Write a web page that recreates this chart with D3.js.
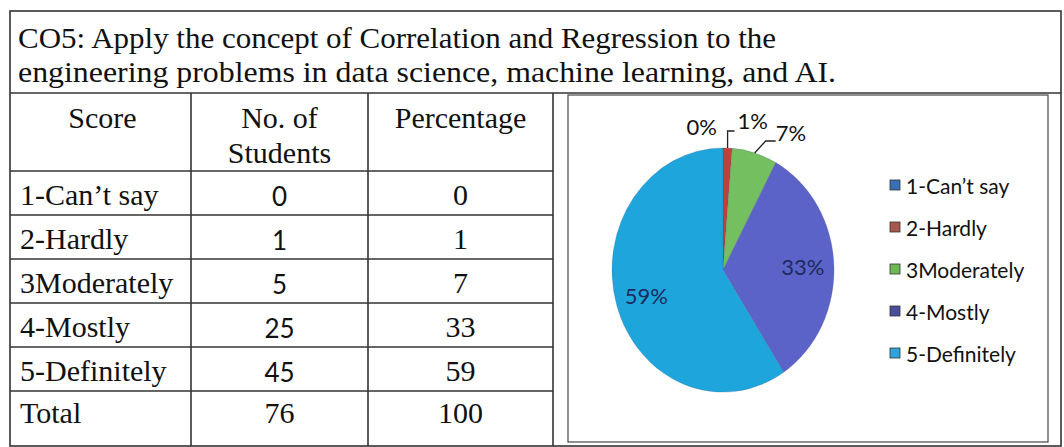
<!DOCTYPE html>
<html>
<head>
<meta charset="utf-8">
<script src="https://cdn.jsdelivr.net/npm/d3@7/dist/d3.min.js"></script>
<style>
  body { margin: 0; background: #fff; }
  .serif { font-family: "Liberation Serif", "Times New Roman", serif; fill: #111; }
  .sans { font-family: Lato, "Open Sans", sans-serif; fill: #111; }
  .rule { stroke: #333; stroke-width: 1.6; fill: none; }
  .box { stroke: #555; stroke-width: 1.3; fill: none; }
</style>
</head>
<body>
<svg id="chart" width="1064" height="447"></svg>
<script>
const TITLE_LINES = [
    "CO5: Apply the concept of Correlation and Regression to the",
    "engineering problems in data science, machine learning, and AI."
];
const HEADERS = [["Score"], ["No. of", "Students"], ["Percentage"]];
const SCORES = ["1-Can\u2019t say", "2-Hardly", "3Moderately", "4-Mostly", "5-Definitely"];
const STUDENTS = [0, 1, 5, 25, 45];
const PERCENTAGES = [0, 1, 7, 33, 59];
const TOTAL_ROW = ["Total", "76", "100"];
const PIE_LABELS = ["0%", "1%", "7%", "33%", "59%"];
const COLORS = ["#3f78c0", "#c0403a", "#74c060", "#5b63c8", "#1ea6dc"];
const LEGEND_COLORS = ["#3b6fb4", "#a8574c", "#6fb856", "#4a4f9a", "#2ea3dc"];

const W = 1064, H = 447;
const svg = d3.select("#chart");

// outer frame
const OUTER = {x0: 10, y0: 11, x1: 1061, y1: 446};
const TITLE_BOTTOM = 93;
const COL_X = [10, 191, 368, 553];
const HEADER_BOTTOM = 171;
const SERIF_SIZE = 30;

svg.append("rect").attr("class", "rule")
    .attr("x", OUTER.x0).attr("y", OUTER.y0)
    .attr("width", OUTER.x1 - OUTER.x0).attr("height", OUTER.y1 - OUTER.y0);
svg.append("line").attr("class", "rule")
    .attr("x1", OUTER.x0).attr("x2", OUTER.x1)
    .attr("y1", TITLE_BOTTOM).attr("y2", TITLE_BOTTOM);

// title
svg.selectAll("text.title")
    .data(TITLE_LINES)
    .enter()
    .append("text")
    .attr("class", "serif title")
    .attr("x", 18)
    .attr("y", function(d, i) { return 48 + i * 34; })
    .attr("font-size", SERIF_SIZE)
    .attr("textLength", function(d, i) { return i === 0 ? 758 : 818; })
    .attr("lengthAdjust", "spacingAndGlyphs")
    .text(function(d) { return d; });

// table rows
const rowKeys = SCORES.concat(["Total"]);
const yRow = d3.scaleBand()
    .domain(rowKeys)
    .range([HEADER_BOTTOM, HEADER_BOTTOM + 44 * rowKeys.length]);

// horizontal rules
svg.append("line").attr("class", "rule")
    .attr("x1", COL_X[0]).attr("x2", COL_X[3])
    .attr("y1", HEADER_BOTTOM).attr("y2", HEADER_BOTTOM);
svg.selectAll("line.rowrule")
    .data(SCORES)
    .enter()
    .append("line")
    .attr("class", "rule rowrule")
    .attr("x1", COL_X[0]).attr("x2", COL_X[3])
    .attr("y1", function(d) { return yRow(d) + yRow.bandwidth(); })
    .attr("y2", function(d) { return yRow(d) + yRow.bandwidth(); });
// vertical rules
svg.selectAll("line.colrule")
    .data(COL_X.slice(1))
    .enter()
    .append("line")
    .attr("class", "rule colrule")
    .attr("x1", function(d) { return d; }).attr("x2", function(d) { return d; })
    .attr("y1", TITLE_BOTTOM).attr("y2", OUTER.y1);

// headers
const colCenter = function(i) { return (COL_X[i] + COL_X[i + 1]) / 2; };
HEADERS.forEach(function(lines, i) {
    svg.selectAll(null)
        .data(lines)
        .enter()
        .append("text")
        .attr("class", "serif")
        .attr("font-size", SERIF_SIZE)
        .attr("text-anchor", "middle")
        .attr("x", colCenter(i) + (i === 0 ? 2 : 0))
        .attr("y", function(d, j) { return 128 + j * 35; })
        .text(function(d) { return d; });
});

// body cells
svg.selectAll("text.score")
    .data(SCORES)
    .enter()
    .append("text")
    .attr("class", "serif score")
    .attr("font-size", SERIF_SIZE)
    .attr("x", 20)
    .attr("y", function(d) { return yRow(d) + 34; })
    .text(function(d) { return d; });

svg.selectAll("text.students")
    .data(STUDENTS)
    .enter()
    .append("text")
    .attr("class", "sans students")
    .attr("font-size", 26)
    .attr("text-anchor", "middle")
    .attr("x", colCenter(1))
    .attr("y", function(d, i) { return yRow(SCORES[i]) + 35; })
    .text(function(d) { return d; });

svg.selectAll("text.pct")
    .data(PERCENTAGES)
    .enter()
    .append("text")
    .attr("class", "serif pct")
    .attr("font-size", SERIF_SIZE)
    .attr("text-anchor", "middle")
    .attr("x", colCenter(2))
    .attr("y", function(d, i) { return yRow(SCORES[i]) + 34; })
    .text(function(d) { return d; });

svg.selectAll("text.total")
    .data(TOTAL_ROW)
    .enter()
    .append("text")
    .attr("class", "serif total")
    .attr("font-size", SERIF_SIZE)
    .attr("text-anchor", function(d, i) { return i === 0 ? "start" : "middle"; })
    .attr("x", function(d, i) { return i === 0 ? 20 : colCenter(i); })
    .attr("y", yRow("Total") + 32)
    .text(function(d) { return d; });

// chart box
const BOX = {x0: 568, y0: 95, x1: 1048, y1: 442};
svg.append("rect").attr("class", "box")
    .attr("x", BOX.x0).attr("y", BOX.y0)
    .attr("width", BOX.x1 - BOX.x0).attr("height", BOX.y1 - BOX.y0);

// pie
const CX = 723, CY = 270, R = 111, SY = 1.1;
const pie = d3.pie().sort(null).value(function(d) { return d; });
const arcs = pie(STUDENTS);
const arc = d3.arc().innerRadius(0).outerRadius(R);
const pieG = svg.append("g")
    .attr("transform", "translate(" + CX + "," + CY + ") scale(1," + SY + ")");
pieG.selectAll("path")
    .data(arcs)
    .enter()
    .append("path")
    .attr("d", arc)
    .attr("fill", function(d, i) { return COLORS[i]; })
    .attr("stroke", "#3a4a7a")
    .attr("stroke-opacity", 0.35)
    .attr("stroke-width", 0.6);

function pt(angle, r) {
    return [CX + r * Math.sin(angle), CY - r * Math.cos(angle) * SY];
}

const LABEL_SIZE = 22;
// inside labels
const labelArc = d3.arc().innerRadius(R * 0.72).outerRadius(R * 0.72);
arcs.forEach(function(d, i) {
    if (i < 3) return;
    const c = labelArc.centroid(d);
    svg.append("text")
        .attr("class", "sans")
        .attr("font-size", LABEL_SIZE)
        .attr("text-anchor", "middle")
        .attr("dominant-baseline", "central")
        .style("fill", "#1d2a5c")
        .attr("x", CX + c[0])
        .attr("y", CY + c[1] * SY)
        .text(PIE_LABELS[i]);
});

// outside labels with leaders
const mid = function(d) { return (d.startAngle + d.endAngle) / 2; };
// 0%
(function() {
    const p = pt(mid(arcs[0]), R + 20);
    svg.append("text").attr("class", "sans").attr("font-size", LABEL_SIZE)
        .attr("text-anchor", "end").attr("dominant-baseline", "central")
        .attr("x", p[0] - 6).attr("y", p[1] + 1).text(PIE_LABELS[0]);
})();
// 1%
(function() {
    const p0 = pt(mid(arcs[1]), R);
    const p1 = [p0[0], p0[1] - 17];
    const p2 = [p1[0] + 7, p1[1]];
    svg.append("path").attr("fill", "none").attr("stroke", "#222").attr("stroke-width", 1.3)
        .attr("d", d3.line()([p0, p1, p2]));
    svg.append("text").attr("class", "sans").attr("font-size", LABEL_SIZE)
        .attr("dominant-baseline", "central")
        .attr("x", p2[0] + 3).attr("y", p2[1] - 11).text(PIE_LABELS[1]);
})();
// 7%
(function() {
    const p0 = pt(mid(arcs[2]), R);
    const p1 = [p0[0] + 11, p0[1] - 12];
    const p2 = [p1[0] + 10, p1[1]];
    svg.append("path").attr("fill", "none").attr("stroke", "#222").attr("stroke-width", 1.3)
        .attr("d", d3.line()([p0, p1, p2]));
    svg.append("text").attr("class", "sans").attr("font-size", LABEL_SIZE)
        .attr("dominant-baseline", "central")
        .attr("x", p2[0]).attr("y", p2[1] - 8).text(PIE_LABELS[2]);
})();

// legend
const yLeg = d3.scaleBand().domain(SCORES).range([164, 374]);
const legend = svg.selectAll("g.leg")
    .data(SCORES)
    .enter()
    .append("g")
    .attr("class", "leg")
    .attr("transform", function(d) {
        return "translate(890," + (yLeg(d) + yLeg.bandwidth() / 2) + ")";
    });
legend.append("rect")
    .attr("x", 0).attr("y", -5)
    .attr("width", 10).attr("height", 10)
    .attr("fill", function(d, i) { return LEGEND_COLORS[i]; })
    .attr("stroke", "#333").attr("stroke-width", 0.8);
legend.append("text")
    .attr("class", "sans")
    .attr("font-size", 21)
    .attr("x", 16)
    .attr("dominant-baseline", "central")
    .text(function(d) { return d; });
</script>
</body>
</html>
